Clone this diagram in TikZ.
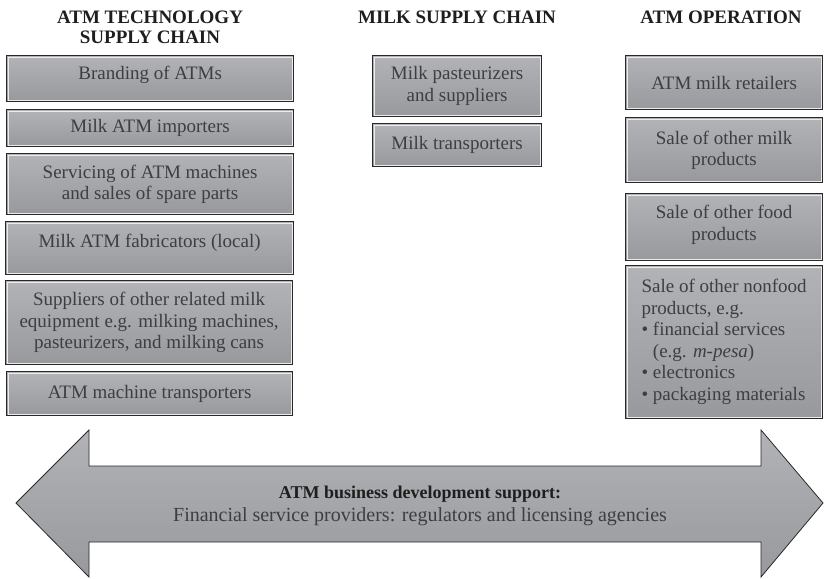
\documentclass[tikz,border=0pt]{standalone}
\usepackage{fontspec}
\setmainfont{Liberation Serif}
\definecolor{boxtop}{RGB}{178,179,183}
\definecolor{boxbot}{RGB}{152,153,157}
\definecolor{edgegray}{RGB}{40,40,42}
\definecolor{txtgray}{RGB}{62,62,64}
\definecolor{headgray}{RGB}{30,30,30}
\begin{document}
\begin{tikzpicture}[x=1pt,y=-1pt,
    every node/.style={font=\fontsize{19}{21.5}\selectfont, text=txtgray},
    chainbox/.style={draw=edgegray, line width=1.2pt, top color=boxtop, bottom color=boxbot,
        anchor=north west, inner sep=2pt, align=center,
        path picture={\draw[white!85!gray, line width=0.7pt]
            ([shift={(1.4pt,-1.4pt)}]path picture bounding box.north west) rectangle
            ([shift={(-1.4pt,1.4pt)}]path picture bounding box.south east);}},
    heading/.style={font=\bfseries\fontsize{19}{20}\selectfont, text=headgray, align=center}]
\useasboundingbox (0,0) rectangle (826,578);

% Headings
\node[heading] (hTech) at (150,27) {ATM TECHNOLOGY\\SUPPLY CHAIN};
\node[heading, anchor=base] (hMilk) at (457,24) {MILK SUPPLY CHAIN};
\node[heading, anchor=base] (hOper) at (721,24) {ATM OPERATION};

% ATM technology supply chain
\node[chainbox, minimum width=287pt, minimum height=46pt, text depth=11pt] (brand) at (6,55) {Branding of ATMs};
\node[chainbox, minimum width=287pt, minimum height=37pt] (importers) at (6,109) {Milk ATM importers};
\node[chainbox, minimum width=287pt, minimum height=61pt] (servicing) at (6,153) {Servicing of ATM machines\\and sales of spare parts};
\node[chainbox, minimum width=288pt, minimum height=53pt, text depth=15pt] (fabricators) at (5,221) {Milk ATM fabricators (local)};
\node[chainbox, minimum width=287pt, minimum height=84pt] (suppliers) at (5,280) {Suppliers of other related milk\\equipment e.g. milking machines,\\pasteurizers, and milking cans};
\node[chainbox, minimum width=286pt, minimum height=44pt] (atmTrans) at (6,371) {ATM machine transporters};

% Milk supply chain
\node[chainbox, minimum width=169pt, minimum height=61pt] (pasteur) at (372,55) {Milk pasteurizers\\and suppliers};
\node[chainbox, minimum width=169pt, minimum height=43pt] (milkTrans) at (372,123) {Milk transporters};

% ATM operation
\node[chainbox, minimum width=197pt, minimum height=54pt] (retailers) at (625,55) {ATM milk retailers};
\node[chainbox, minimum width=197pt, minimum height=65pt] (otherMilk) at (625,117) {Sale of other milk\\products};
\node[chainbox, minimum width=197pt, minimum height=67pt, text depth=9pt] (otherFood) at (625,193) {Sale of other food\\products};
\node[chainbox, minimum width=197pt, minimum height=153pt, align=left, inner xsep=14pt] (nonfood) at (625,265)
    {Sale of other nonfood\\products, e.g.\\\textbullet{} financial services\\\phantom{\textbullet{} }(e.g. \textit{m-pesa})\\\textbullet{} electronics\\\textbullet{} packaging materials};

% Business development support arrow
\draw[draw=edgegray, line width=0.8pt, top color=boxtop, bottom color=boxbot]
    (16,503) -- (89,430) -- (89,466) -- (761,466) -- (761,430) -- (823,503)
    -- (761,577) -- (761,542) -- (89,542) -- (89,577) -- cycle;
\node[align=center, font=\fontsize{20}{22.5}\selectfont] (support) at (420,506)
    {{\bfseries\fontsize{18}{22.5}\selectfont\color{headgray}ATM business development support:}\\Financial service providers: regulators and licensing agencies};
\end{tikzpicture}
\end{document}
